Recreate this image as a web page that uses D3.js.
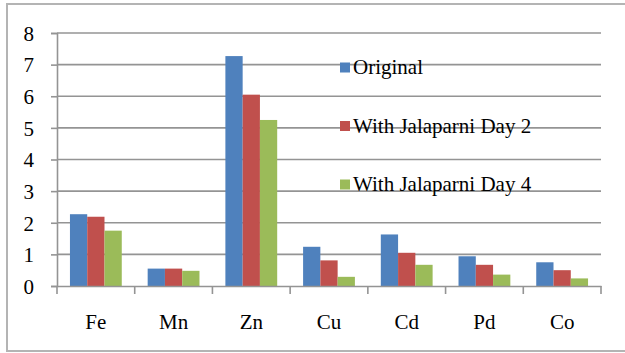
<!DOCTYPE html>
<html>
<head>
<meta charset="utf-8">
<script src="https://cdn.jsdelivr.net/npm/d3@7"></script>
<style>
  html, body { margin: 0; padding: 0; background: #fff; }
  svg { display: block; }
</style>
</head>
<body>
<svg id="chart" width="625" height="353"></svg>
<script>
// Metal concentrations per element
const categories = ["Fe", "Mn", "Zn", "Cu", "Cd", "Pd", "Co"];
const seriesNames = ["Original", "With Jalaparni Day 2", "With Jalaparni Day 4"];
const original = [2.27, 0.55, 7.27, 1.24, 1.63, 0.94, 0.75];
const day2     = [2.19, 0.55, 6.05, 0.81, 1.05, 0.67, 0.50];
const day4     = [1.75, 0.48, 5.25, 0.29, 0.67, 0.36, 0.24];
const yTicks   = [0, 1, 2, 3, 4, 5, 6, 7, 8];
const colors   = ["#4f81bd", "#c0504d", "#9bbb59"];

const seriesValues = [original, day2, day4];

const FONT = "'Liberation Serif'";
const FONT_SIZE = "21px";

const svg = d3.select("#chart");
const plot = { left: 57, right: 601, top: 33, bottom: 286 };
const gridColor = "#949494";

// chart frame
svg.append("rect")
  .attr("x", 7).attr("y", 4)
  .attr("width", 640).attr("height", 347)
  .attr("fill", "none")
  .attr("stroke", "#b4b4b4")
  .attr("stroke-width", 2);

const x0 = d3.scaleBand().domain(categories).range([plot.left, plot.right]).padding(0);
const barW = x0.bandwidth() / 4.5;
const x1 = d3.scaleBand().domain(seriesNames)
  .range([0.75 * barW, 3.75 * barW]).padding(0);
const y = d3.scaleLinear().domain([0, 8]).range([plot.bottom, plot.top]);

// horizontal gridlines
svg.append("g").selectAll("line")
  .data(yTicks.filter(d => d > 0))
  .join("line")
  .attr("x1", plot.left).attr("x2", plot.right)
  .attr("y1", d => y(d)).attr("y2", d => y(d))
  .attr("stroke", gridColor).attr("stroke-width", 1.6);

// bars
const groups = svg.append("g").selectAll("g")
  .data(categories)
  .join("g")
  .attr("transform", c => `translate(${x0(c)},0)`);

groups.selectAll("rect")
  .data((c, i) => seriesNames.map((s, k) => ({ s, k, v: seriesValues[k][i] })))
  .join("rect")
  .attr("x", d => x1(d.s))
  .attr("width", x1.bandwidth())
  .attr("y", d => y(d.v))
  .attr("height", d => y(0) - y(d.v))
  .attr("fill", d => colors[d.k]);

// y axis
const yAxis = d3.axisLeft(y).tickValues(yTicks).tickSize(6).tickFormat(d3.format("d"));
const gy = svg.append("g").attr("transform", `translate(${plot.left},0)`).call(yAxis);
gy.attr("font-family", null).attr("font-size", null);
gy.select(".domain").attr("stroke", gridColor).attr("stroke-width", 1.6);
gy.selectAll(".tick line").attr("stroke", gridColor).attr("stroke-width", 1.6);
gy.selectAll(".tick text")
  .attr("x", -23)
  .attr("dy", "0.35em")
  .style("font-family", FONT)
  .style("font-size", FONT_SIZE)
  .attr("fill", "#000");

// x axis
const xAxis = d3.axisBottom(x0).tickSize(0).tickSizeOuter(0);
const gx = svg.append("g").attr("transform", `translate(0,${plot.bottom})`).call(xAxis);
gx.attr("font-family", null).attr("font-size", null);
gx.select(".domain").attr("stroke", gridColor).attr("stroke-width", 1.6);
gx.selectAll(".tick text")
  .attr("y", 36)
  .attr("dy", "0.32em")
  .style("font-family", FONT)
  .style("font-size", FONT_SIZE)
  .attr("fill", "#000");
// category boundary tick marks
gx.append("g").selectAll("line")
  .data(categories.map(c => x0(c)).concat([plot.right]))
  .join("line")
  .attr("x1", d => d).attr("x2", d => d)
  .attr("y1", 0).attr("y2", 8)
  .attr("stroke", gridColor).attr("stroke-width", 1.6);

// legend
const legend = svg.append("g");
const legendY = [67, 125.5, 184];
seriesNames.forEach((s, k) => {
  const g = legend.append("g").attr("transform", `translate(340,${legendY[k]})`);
  g.append("rect").attr("x", 0).attr("y", -4.5).attr("width", 10).attr("height", 10)
    .attr("fill", colors[k]);
  g.append("text").attr("x", 13).attr("y", 0).attr("dy", "0.35em")
    .style("font-family", FONT)
    .style("font-size", FONT_SIZE)
    .attr("fill", "#000")
    .text(s);
});
</script>
</body>
</html>
